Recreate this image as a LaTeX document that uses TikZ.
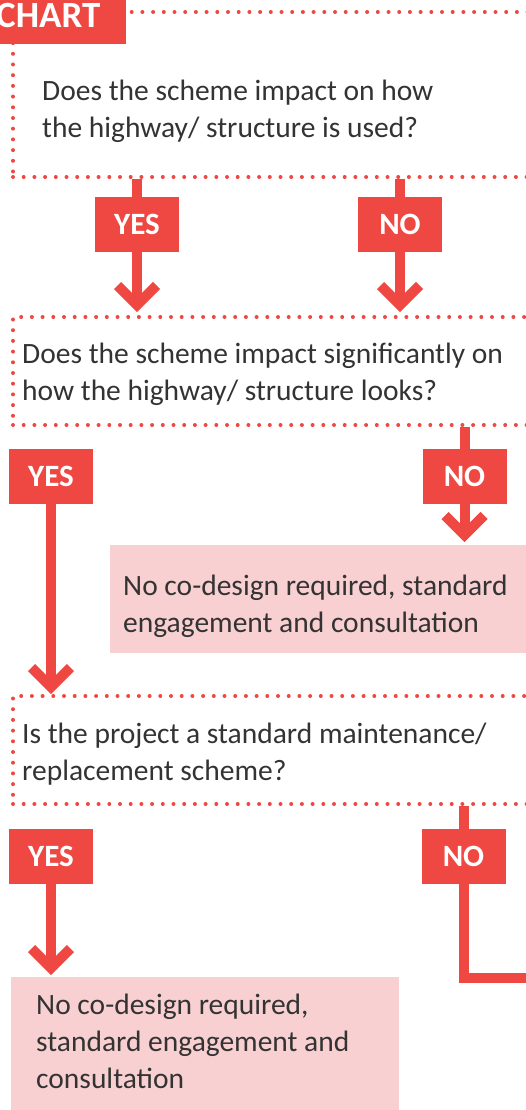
\documentclass[tikz,border=0pt]{standalone}
\usepackage{fontspec}
\setmainfont{Carlito}
\usetikzlibrary{positioning, calc}
\definecolor{chartred}{HTML}{EF4842}
\definecolor{chartpink}{HTML}{F9D0D2}
\definecolor{charttext}{HTML}{333333}

\tikzset{
  frame/.style={draw=chartred, line width=4pt, dash pattern=on 0pt off 10.7pt, line cap=round,
    rectangle, anchor=north west, inner sep=0pt, minimum width=560pt},
  qtext/.style={anchor=base west, align=left, inner sep=0pt, text=charttext,
    font=\fontsize{29.5}{37}\selectfont},
  answer/.style={fill=chartred, text=white, inner sep=0pt, minimum width=84pt, minimum height=55pt,
    font=\fontsize{31}{31}\selectfont\bfseries},
  result/.style={fill=chartpink, anchor=north west, inner sep=0pt},
  shaft/.style={draw=chartred, line width=10pt, line join=miter},
  chev/.pic={\draw[chartred, line width=10pt, line join=miter, miter limit=10] (-19.5,-19.5) -- (0,0) -- (19.5,-19.5);}
}

\begin{document}
\begin{tikzpicture}[x=1pt, y=-1pt]
  \path[use as bounding box, clip] (0,0) rectangle (526,1110);

  % question frames
  \node[frame, minimum height=165pt] (q1) at (11,10) {};
  \node[frame, minimum height=108pt] (q2) at (11,315) {};
  \node[frame, minimum height=108pt] (q3) at (11,694) {};

  % title tab
  \fill[chartred] (-5,-5) rectangle (126,44);
  \node[anchor=base west, inner sep=0pt, text=white, font=\fontsize{37}{37}\selectfont\bfseries] (title) at (-4,28) {CHART};

  % texts sit on the baseline of their last line
  \node[qtext] (t1) at (42,138) {Does the scheme impact on how\\the highway/ structure is used?};
  \node[qtext] (t2) at (22,400) {Does the scheme impact significantly on\\how the highway/ structure looks?};
  \node[qtext] (t3) at (22,780) {Is the project a standard maintenance/\\replacement scheme?};

  % outcome boxes
  \node[result, minimum width=430pt, minimum height=108pt] (r1) at (110,545) {};
  \node[qtext] (r1t) at (123,632) {No co-design required, standard\\engagement and consultation};
  \node[result, minimum width=388pt, minimum height=140pt] (r2) at (11,977) {};
  \node[qtext] (r2t) at (36,1088) {No co-design required,\\standard engagement and\\consultation};

  % answers
  \node[answer] (y1) at (137,224.5) {YES};
  \node[answer] (n1) at (400,224.5) {NO};
  \node[answer] (y2) at (51,476.5) {YES};
  \node[answer] (n2) at (464.5,476.5) {NO};
  \node[answer] (y3) at (51,856.5) {YES};
  \node[answer] (n3) at (463.5,856.5) {NO};
  \coordinate (exit) at (540,978);

  \draw[shaft] (q1.south -| y1) -- (y1.north);
  \draw[shaft] (y1.south) -- ([yshift=10pt]y1.south |- q2.north) pic {chev};
  \draw[shaft] (q1.south -| n1) -- (n1.north);
  \draw[shaft] (n1.south) -- ([yshift=10pt]n1.south |- q2.north) pic {chev};

  \draw[shaft] (y2.south) -- ([yshift=7pt]y2.south |- q3.north) pic {chev};
  \draw[shaft] (q2.south -| n2) -- (n2.north);
  \draw[shaft] (n2.south) -- ([yshift=10pt]n2.south |- r1.north) pic {chev};

  \draw[shaft] (y3.south) -- ([yshift=9pt]y3.south |- r2.north) pic {chev};
  \draw[shaft] (q3.south -| n3) -- (n3.north);
  \draw[shaft] (n3.south) |- (exit);
\end{tikzpicture}
\end{document}
